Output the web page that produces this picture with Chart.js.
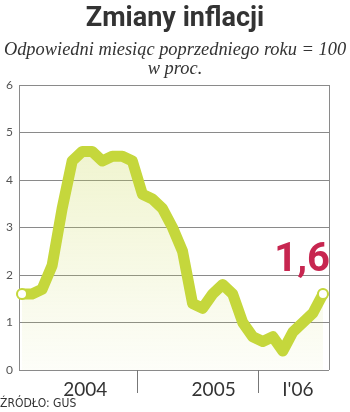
<!DOCTYPE html>
<html>
<head>
<meta charset="utf-8">
<script src="https://cdn.jsdelivr.net/npm/chart.js@4.4.1/dist/chart.umd.min.js"></script>
<style>
  html, body { margin: 0; padding: 0; background: #fff; }
  #wrap { position: relative; width: 350px; height: 412px; overflow: hidden; }
  #chart { position: absolute; left: 0; top: 0; }
  .txt { position: absolute; left: 0; width: 350px; text-align: center; color: #333; white-space: nowrap; }
  #title { top: 0px; font: bold 27px Roboto, sans-serif; line-height: 34px; }
  #sub1 { top: 38px; font: italic 18.4px "Liberation Serif", serif; line-height: 22px; }
  #sub2 { top: 57px; font: italic 18.4px "Liberation Serif", serif; line-height: 22px; }
  #source { top: 396px; width: auto; text-align: left; font: 12px "DejaVu Sans Condensed", "DejaVu Sans", sans-serif; line-height: 14px; }
</style>
</head>
<body>
<div id="wrap">
  <canvas id="chart" width="350" height="412"></canvas>
  <div class="txt" id="title">Zmiany inflacji</div>
  <div class="txt" id="sub1">Odpowiedni miesiąc poprzedniego roku = 100</div>
  <div class="txt" id="sub2">w proc.</div>
  <div class="txt" id="source">ŹRÓDŁO: GUS</div>
</div>
<script>
// monthly CPI, same month of previous year = 100, in %
MONTHS = ["I'04","II","III","IV","V","VI","VII","VIII","IX","X","XI","XII",
          "I'05","II","III","IV","V","VI","VII","VIII","IX","X","XI","XII",
          "I'06","II","III","IV","V","VI","VII"];
INFLATION = [1.6, 1.6, 1.7, 2.2, 3.4, 4.4, 4.6, 4.6, 4.4, 4.5, 4.5, 4.4,
             3.7, 3.6, 3.4, 3.0, 2.5, 1.4, 1.3, 1.6, 1.8, 1.6, 1.0, 0.7,
             0.6, 0.7, 0.4, 0.8, 1.0, 1.2, 1.6];
// year labels along the bottom and the dividers between years (month index)
YEAR_LABELS = ["2004", "2005", "I'06"];
YEAR_LABEL_POS = [6.3, 19.1, 27.5];
YEAR_SPLITS = [11.5, 23.5];
Y_TICKS = [0, 1, 2, 3, 4, 5, 6];

var GREEN = '#c5d73c';
var RED = '#c72650';

var points = [];
for (i = 0; i < INFLATION.length; i++) {
    points.push({ x: i, y: INFLATION[i] });
}
var last = INFLATION.length - 1;

// right frame line, year dividers and the value of the last month
var extras = {
    id: 'extras',
    beforeDatasetsDraw: function(chart) {
        var ctx = chart.ctx;
        var a = chart.chartArea;
        ctx.save();
        ctx.strokeStyle = '#8a8a8a';
        ctx.lineWidth = 1;
        ctx.beginPath();
        ctx.moveTo(Math.round(a.right) + 0.5, a.top);
        ctx.lineTo(Math.round(a.right) + 0.5, a.bottom);
        ctx.stroke();
        var xs = chart.scales.x;
        ctx.strokeStyle = '#777';
        for (var k = 0; k < YEAR_SPLITS.length; k++) {
            var px = Math.round(xs.getPixelForValue(YEAR_SPLITS[k])) + 0.5;
            ctx.beginPath();
            ctx.moveTo(px, a.bottom);
            ctx.lineTo(px, a.bottom + 23);
            ctx.stroke();
        }
        ctx.restore();
    },
    afterDatasetsDraw: function(chart) {
        var ctx = chart.ctx;
        var pt = chart.getDatasetMeta(0).data[last];
        ctx.save();
        ctx.fillStyle = RED;
        ctx.font = 'bold 40px Roboto, sans-serif';
        ctx.textAlign = 'right';
        ctx.textBaseline = 'alphabetic';
        ctx.fillText(INFLATION[last].toFixed(1).replace('.', ','), pt.x + 7, pt.y - 23);
        ctx.restore();
    }
};

var ctx = document.getElementById('chart').getContext('2d');
var chart = new Chart(ctx, {
    type: 'line',
    data: {
        labels: MONTHS,
        datasets: [{
            label: 'inflacja',
            data: points,
            borderColor: GREEN,
            borderWidth: 11,
            borderJoinStyle: 'round',
            borderCapStyle: 'round',
            tension: 0,
            fill: 'origin',
            backgroundColor: function(c) {
                var a = c.chart.chartArea;
                if (!a) return 'rgba(200,215,80,0.2)';
                var g = c.chart.ctx.createLinearGradient(0, a.top + 60, 0, a.bottom);
                g.addColorStop(0, 'rgba(200,215,80,0.28)');
                g.addColorStop(1, 'rgba(200,215,80,0.04)');
                return g;
            },
            pointRadius: function(c) { return (c.dataIndex == 0 || c.dataIndex == last) ? 5 : 0; },
            pointBackgroundColor: '#fff',
            pointBorderColor: GREEN,
            pointBorderWidth: 2,
            clip: 12
        }]
    },
    options: {
        responsive: false,
        animation: false,
        events: [],
        layout: { padding: { top: 85, right: 21, left: 0, bottom: 0 } },
        plugins: {
            legend: { display: false },
            tooltip: { enabled: false }
        },
        scales: {
            x: {
                type: 'linear',
                min: -0.3,
                max: 30.6,
                grid: { display: false },
                border: { display: false },
                afterBuildTicks: function(scale) {
                    scale.ticks = YEAR_LABEL_POS.map(function(v) { return { value: v }; });
                },
                afterFit: function(scale) { scale.height = 42; },
                ticks: {
                    autoSkip: false,
                    maxRotation: 0,
                    padding: 0,
                    color: '#333',
                    font: { family: 'Lato, sans-serif', size: 19 },
                    callback: function(v, idx) { return YEAR_LABELS[idx]; }
                }
            },
            y: {
                min: 0,
                max: 6,
                afterBuildTicks: function(scale) {
                    scale.ticks = Y_TICKS.map(function(v) { return { value: v }; });
                },
                afterFit: function(scale) { scale.width = 19; },
                grid: { color: '#8a8a8a', lineWidth: 1, drawTicks: false },
                border: { display: true, color: '#8a8a8a' },
                ticks: {
                    padding: 6,
                    color: '#555',
                    font: { family: 'Lato, sans-serif', size: 12 }
                }
            }
        }
    },
    plugins: [extras]
});
</script>
</body>
</html>
